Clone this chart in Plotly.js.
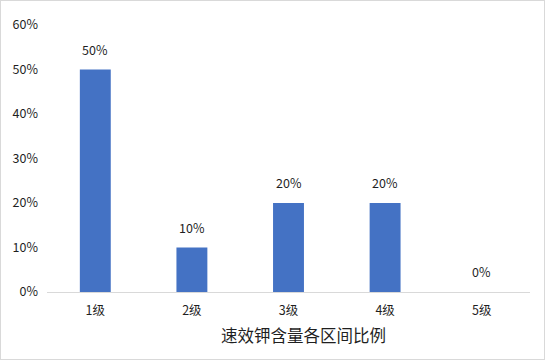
<!DOCTYPE html>
<html><head><meta charset="utf-8">
<script src="https://cdn.plot.ly/plotly-3.0.1.min.js"></script>
<style>
html,body{margin:0;padding:0;background:#fff;}
#wrap{width:543px;height:358px;border:1px solid #d9d9d9;}
#chart{width:543px;height:358px;}
</style></head><body>
<div id="wrap"><div id="chart"></div></div>
<script>
const categories = ['1级','2级','3级','4级','5级'];
const values = [0.50, 0.10, 0.20, 0.20, 0.00];
const valueLabels = ['50%','10%','20%','20%','0%'];
const yTickVals = [0,0.1,0.2,0.3,0.4,0.5,0.6];
const yTickText = ['0%','10%','20%','30%','40%','50%','60%'];
const axisTitle = '速效钾含量各区间比例';

const font = 'Noto Sans CJK SC, Noto Sans, sans-serif';
const txt = '#1f1f1f';
const trace = {
  type:'bar', x:categories, y:values,
  marker:{color:'#4472c4'}, hoverinfo:'none'
};
const annotations = categories.map((c,i)=>({
  x:c, y:values[i], xref:'x', yref:'y', text:valueLabels[i],
  showarrow:false, yanchor:'bottom', yshift:9,
  font:{family:font,size:12.5,color:txt}
}));
annotations.push({
  xref:'paper', yref:'paper', x:(302-46)/483, y:-(335-292)/267,
  text:axisTitle, showarrow:false, xanchor:'center', yanchor:'middle',
  font:{family:font,size:16.5,color:txt}
});
const layout = {
  width:543, height:358,
  margin:{l:46,r:14,t:24,b:67},
  paper_bgcolor:'#fff', plot_bgcolor:'#fff',
  bargap:0.68, showlegend:false,
  font:{family:font,size:12.5,color:txt},
  xaxis:{type:'category', showline:true, linecolor:'#d9d9d9', linewidth:1,
    ticks:'', showgrid:false, zeroline:false, ticklabelstandoff:7,
    tickfont:{family:font,size:12.5,color:txt}},
  yaxis:{range:[0,0.6], tickvals:yTickVals, ticktext:yTickText,
    showgrid:false, zeroline:false, showline:false, ticks:'', ticklabelstandoff:8,
    tickfont:{family:font,size:12.5,color:txt}},
  annotations:annotations
};
Plotly.newPlot('chart',[trace],layout,{displayModeBar:false,staticPlot:true});
</script></body></html>
